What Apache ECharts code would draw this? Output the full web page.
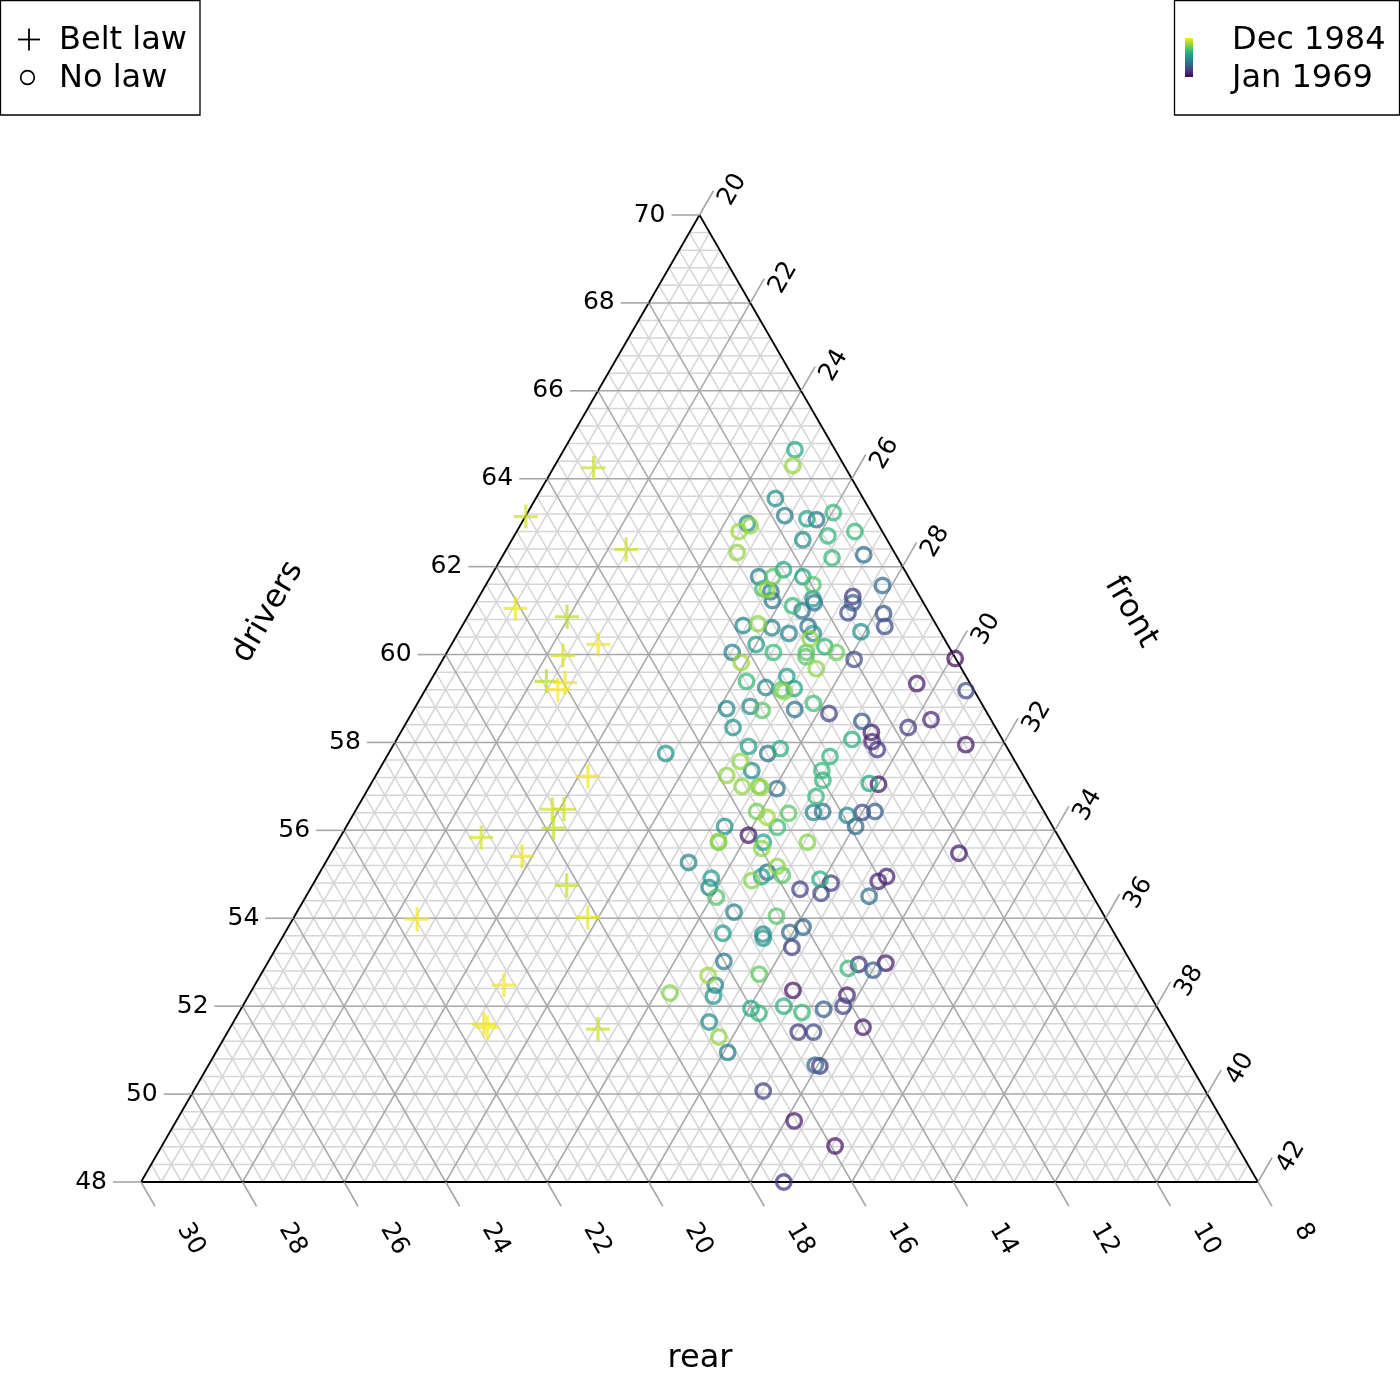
<!DOCTYPE html>
<html><head><meta charset="utf-8">
<script src="https://cdn.jsdelivr.net/npm/echarts@6/dist/echarts.min.js"></script>
<style>html,body{margin:0;padding:0;background:#fff}#c{width:1400px;height:1400px}</style>
</head><body><div id="c"></div>
<script>
// ---- data (percent of casualties) ----
const drivers = [
64.66,64.30,63.55,63.16,63.09,63.07,63.23,62.98,62.93,62.80,
62.61,62.70,62.80,62.32,62.20,62.27,61.93,61.77,61.77,61.77,
61.59,61.50,61.48,61.43,61.23,61.11,61.00,61.27,61.18,61.32,
61.18,60.95,61.57,60.93,60.64,60.52,60.66,60.70,60.61,60.48,
60.64,60.48,60.36,60.23,60.05,60.05,60.18,60.05,60.05,59.95,
59.82,59.68,59.89,59.91,59.39,59.25,59.20,59.16,59.23,59.50,59.34,59.18,
58.77,58.82,58.73,58.75,58.89,58.66,58.48,58.23,58.02,57.84,58.34,58.52,
57.95,58.07,58.34,57.75,57.91,57.75,57.86,57.68,
57.57,57.36,57.25,57.36,57.14,57.00,
57.00,56.98,56.95,57.07,57.05,56.77,
56.41,56.43,56.34,56.41,56.43,56.09,
56.43,56.30,56.39,56.07,56.09,55.89,
55.73,55.75,55.73,55.59,
55.73,55.48,55.27,54.91,54.70,54.48,54.86,54.95,55.05,55.18,
54.98,54.66,54.89,54.57,54.80,54.84,54.95,54.50,54.14,54.05,
53.66,53.64,53.55,53.68,53.80,53.34,53.02,52.70,52.48,52.23,52.30,
52.73,52.36,52.86,52.95,52.82,52.98,52.25,52.00,51.93,52.00,
51.86,51.95,51.84,51.64,51.30,50.95,51.52,51.41,51.41,50.66,
50.64,50.07,49.39,48.82,48.00,
64.25,63.14,62.39,61.05,60.86,60.23,59.98,59.39,59.36,59.20,
57.23,56.48,56.48,56.05,55.84,55.41,54.75,54.02,53.98,52.48,
51.59,51.52,51.48
];
const front = [
24.55,24.69,24.72,25.10,25.57,25.77,26.02,24.45,24.53,24.38,
25.73,26.18,26.66,24.58,26.51,27.10,25.69,25.28,25.56,26.15,
26.44,25.50,25.59,25.69,25.82,26.28,26.52,26.60,26.67,27.36,
27.43,27.45,27.82,28.16,28.33,27.92,25.53,25.80,26.12,26.52,
26.82,27.00,27.00,26.00,25.62,26.43,27.38,27.67,27.08,27.12,
25.91,27.46,28.10,30.08,26.23,26.68,27.01,27.09,27.25,26.97,29.61,30.66,
26.15,26.59,26.87,27.50,27.80,28.22,28.96,29.27,29.39,29.58,29.94,30.30,
31.27,28.97,26.49,25.46,27.01,27.47,27.66,28.73,
27.02,27.35,26.91,28.73,28.86,27.34,
27.67,27.72,28.05,29.81,30.00,28.91,
29.04,29.21,29.74,30.00,30.24,30.03,
27.91,28.18,28.56,28.50,27.45,28.02,
27.51,27.50,28.39,28.43,
29.26,32.37,27.15,27.78,27.84,28.09,28.60,28.75,28.81,28.94,
29.14,29.65,29.93,30.11,30.19,31.10,31.21,31.09,28.61,29.49,
28.63,29.43,29.48,29.94,30.14,30.15,28.97,28.82,29.07,29.16,28.27,
29.81,30.66,31.50,31.66,32.01,32.18,31.78,31.83,31.48,30.66,
31.09,30.04,30.25,29.37,29.73,30.08,32.46,31.24,31.54,31.95,
32.05,31.22,32.17,33.26,32.66,
20.79,20.01,22.36,20.85,21.96,22.89,22.32,22.29,22.67,22.61,
24.19,23.86,24.09,24.10,22.78,23.80,25.01,25.79,22.45,24.91,
24.96,25.06,27.26
];
const rear = [
8.79,9.01,9.73,9.74,9.34,9.16,8.75,10.57,10.54,10.82,
9.66,9.12,8.54,11.10,9.29,8.63,10.38,10.95,10.67,10.08,
9.97,11.00,10.93,10.88,10.95,10.61,10.48,10.13,10.15,9.32,
9.39,9.60,8.61,8.91,9.03,9.56,11.81,11.50,11.27,11.00,
10.54,10.52,10.64,11.77,12.33,11.52,10.44,10.28,10.87,10.93,
12.27,10.86,10.01,8.01,12.38,12.07,11.79,11.75,11.52,11.53,9.05,8.16,
13.08,12.59,12.40,11.75,11.31,11.12,10.56,10.50,10.59,10.58,9.72,9.18,
8.78,10.96,13.17,14.79,13.08,12.78,12.48,11.59,
13.41,13.29,13.84,11.91,12.00,13.66,
13.33,13.30,13.00,11.12,10.95,12.32,
12.55,12.36,11.92,11.59,11.33,11.88,
13.66,13.52,13.05,13.43,14.46,14.09,
14.76,14.75,13.88,13.98,
13.01,10.15,15.58,15.31,15.46,15.43,14.54,14.30,14.14,13.88,
13.88,13.69,13.18,13.32,13.01,12.06,11.84,12.41,15.25,14.46,
15.71,14.93,14.97,14.38,14.06,14.51,16.01,16.48,16.45,16.61,17.43,
15.46,14.98,13.64,13.39,13.17,12.84,13.97,14.17,14.59,15.34,
15.05,16.01,15.91,16.99,16.97,16.97,14.02,15.35,15.05,15.39,
15.31,16.71,16.44,15.92,17.34,
12.96,14.85,13.25,16.10,15.18,14.88,15.70,16.32,15.97,16.19,
16.58,17.66,17.43,17.85,19.38,18.79,18.24,18.19,21.57,20.61,
21.45,21.42,19.26
];
// months since Jan 1969 (estimated from the colour of each mark)
const month = [
115,160,90,80,110,70,125,90,160,162,
92,125,125,160,125,68,115,80,140,110,
138,128,162,72,75,125,70,95,70,35,
55,42,65,50,45,95,85,158,85,85,
70,95,160,105,82,128,122,148,140,140,
162,158,45,5,128,85,142,155,110,105,15,40,
85,88,140,70,132,38,55,15,18,30,32,20,
12,120,95,98,110,72,118,122,
158,90,160,125,122,160,
145,163,70,115,10,125,
85,68,88,40,55,65,
148,165,142,130,95,12,
145,160,112,158,
155,14,85,105,88,138,156,112,70,158,
140,35,118,40,30,20,16,70,82,140,
105,90,95,65,60,35,78,162,85,100,155,
142,10,125,30,55,15,18,40,58,120,
128,112,125,92,160,80,12,30,45,62,
28,38,14,10,25,
176,178,176,186,171,188,180,170,186,190,
187,178,176,174,179,185,175,184,189,188,
185,190,177
];
const LAW_START = 169;            // Feb 1983: seat-belt law in force
const LAST_MONTH = 191;           // Dec 1984
const driversTicks = [48,50,52,54,56,58,60,62,64,66,68,70];
const frontTicks   = [20,22,24,26,28,30,32,34,36,38,40,42];
const rearTicks    = [30,28,26,24,22,20,18,16,14,12,10,8];
const legendLaw    = ['Belt law','No law'];
const legendTime   = ['Dec 1984','Jan 1969'];
const axisTitles   = {drivers:'drivers', front:'front', rear:'rear'};

// ---- ternary frame ----
const DMIN = 48, FMIN = 20, RMIN = 8, SPAN = 22, TOTAL = DMIN + FMIN + RMIN + SPAN;
function toXY(d, f, r) {
  const a = (d - DMIN) / SPAN, b = (f - FMIN) / SPAN, c = (r - RMIN) / SPAN, s = a + b + c;
  return [(b + a / 2) / s, a / s];
}
const VIR = ['#440154','#482475','#414487','#355f8d','#2a788e','#21918c','#22a884','#44bf70','#7ad151','#bddf26','#fde725'];
function hex(h){return [parseInt(h.slice(1,3),16),parseInt(h.slice(3,5),16),parseInt(h.slice(5,7),16)];}
function viridis(t, alpha) {
  t = Math.max(0, Math.min(1, t));
  const p = t * 10, i = Math.min(9, Math.floor(p)), f = p - i;
  const a = hex(VIR[i]), b = hex(VIR[i + 1]);
  const c = a.map((v, k) => Math.round(v + (b[k] - v) * f));
  return 'rgba(' + c.join(',') + ',' + alpha + ')';
}

const FONT = 'DejaVu Sans';
const minorSegs = [], majorSegs = [];
const STEP = 0.4, NSTEP = Math.round(SPAN / STEP);
for (let k = 1; k < NSTEP; k++) {
  const t = k * STEP;
  const target = (k % 5 === 0) ? majorSegs : minorSegs;
  const dv = DMIN + t, fv = FMIN + t, rv = RMIN + t;
  const a1 = toXY(dv, FMIN, TOTAL - dv - FMIN), a2 = toXY(dv, TOTAL - dv - RMIN, RMIN);
  const b1 = toXY(DMIN, fv, TOTAL - fv - DMIN), b2 = toXY(TOTAL - fv - RMIN, fv, RMIN);
  const c1 = toXY(DMIN, TOTAL - rv - DMIN, rv), c2 = toXY(TOTAL - rv - FMIN, FMIN, rv);
  target.push([a1[0], a1[1], a2[0], a2[1]], [b1[0], b1[1], b2[0], b2[1]], [c1[0], c1[1], c2[0], c2[1]]);
}
const vTop = toXY(DMIN + SPAN, FMIN, RMIN), vLeft = toXY(DMIN, FMIN, RMIN + SPAN), vRight = toXY(DMIN, FMIN + SPAN, RMIN);
const edgeSegs = [[vLeft[0], vLeft[1], vRight[0], vRight[1]], [vRight[0], vRight[1], vTop[0], vTop[1]], [vTop[0], vTop[1], vLeft[0], vLeft[1]]];

function segSeries(data, color, width, z) {
  return {
    type: 'custom', coordinateSystem: 'cartesian2d', silent: true, z: z, animation: false, clip: false,
    data: data, encode: {x: [0, 2], y: [1, 3]},
    renderItem: function (params, api) {
      const p1 = api.coord([api.value(0), api.value(1)]), p2 = api.coord([api.value(2), api.value(3)]);
      return {type: 'line', shape: {x1: p1[0], y1: p1[1], x2: p2[0], y2: p2[1]}, style: {stroke: color, lineWidth: width}};
    }
  };
}

// ticks: [x, y, axis, labelIndex]
const tickData = [];
driversTicks.forEach((v, i) => { const p = toXY(v, FMIN, TOTAL - v - FMIN); tickData.push([p[0], p[1], 0, i]); });
frontTicks.forEach((v, i) => { const p = toXY(TOTAL - v - RMIN, v, RMIN); tickData.push([p[0], p[1], 1, i]); });
rearTicks.forEach((v, i) => { const p = toXY(DMIN, TOTAL - v - DMIN, v); tickData.push([p[0], p[1], 2, i]); });
const TL = 28, TICKC = '#a6a6a6', TFONT = '25px "' + FONT + '"';
const tickSeries = {
  type: 'custom', coordinateSystem: 'cartesian2d', silent: true, z: 6, animation: false, clip: false,
  data: tickData, encode: {x: 0, y: 1},
  renderItem: function (params, api) {
    const p = api.coord([api.value(0), api.value(1)]);
    const ax = api.value(2), li = api.value(3);
    let e, txt;
    if (ax === 0) {
      e = [p[0] - TL, p[1]];
      txt = {type: 'text', x: e[0] - 6, y: e[1], style: {text: String(driversTicks[li]), fill: '#000', font: TFONT, align: 'right', verticalAlign: 'middle'}};
    } else if (ax === 1) {
      e = [p[0] + TL * 0.5, p[1] - TL * 0.866];
      txt = {type: 'text', x: e[0] + 19, y: e[1] - 1, rotation: Math.PI / 3, style: {text: String(frontTicks[li]), fill: '#000', font: TFONT, align: 'center', verticalAlign: 'middle'}};
    } else {
      e = [p[0] + TL * 0.5, p[1] + TL * 0.866];
      txt = {type: 'text', x: e[0] + 28, y: e[1] + 19, rotation: -Math.PI / 3, style: {text: String(rearTicks[li]), fill: '#000', font: TFONT, align: 'left', verticalAlign: 'middle'}};
    }
    return {type: 'group', children: [
      {type: 'line', shape: {x1: p[0], y1: p[1], x2: e[0], y2: e[1]}, style: {stroke: TICKC, lineWidth: 1.6}},
      txt
    ]};
  }
};

// points, drawn in time order
const order = drivers.map((_, i) => i).sort((a, b) => month[a] - month[b]);
const circData = [], plusData = [];
order.forEach(i => {
  const xy = toXY(drivers[i], front[i], rear[i]);
  const col = viridis(month[i] / LAST_MONTH, 0.9);
  if (month[i] >= LAW_START) plusData.push({value: xy, itemStyle: {color: col}});
  else circData.push({value: xy, itemStyle: {color: 'rgba(0,0,0,0)', borderColor: col, borderWidth: 3.4}});
});
const PLUS = 'path://M10.4,0 L13.6,0 L13.6,10.4 L24,10.4 L24,13.6 L13.6,13.6 L13.6,24 L10.4,24 L10.4,13.6 L0,13.6 L0,10.4 L10.4,10.4 Z';

const chart = echarts.init(document.getElementById('c'));
const gradStops = [];
for (let k = 0; k <= 10; k++) gradStops.push({offset: k / 10, color: VIR[k]});
const LFONT = '32px "' + FONT + '"';
chart.setOption({
  animation: false,
  backgroundColor: '#fff',
  grid: {left: 141, top: 215, width: 1117, height: 967},
  xAxis: {type: 'value', min: 0, max: 1, show: false},
  yAxis: {type: 'value', min: 0, max: 1, show: false},
  series: [
    segSeries(minorSegs, '#d6d6d6', 1.5, 1),
    segSeries(majorSegs, '#a8a8a8', 1.5, 2),
    segSeries(edgeSegs, '#000', 1.8, 3),
    tickSeries,
    {type: 'scatter', name: legendLaw[1], z: 10, animation: false, silent: true, symbol: 'circle', symbolSize: 14.5, data: circData},
    {type: 'scatter', name: legendLaw[0], z: 11, animation: false, silent: true, symbol: PLUS, symbolSize: 24, data: plusData}
  ],
  graphic: [
    {type: 'text', x: 268, y: 612, rotation: Math.PI / 3, style: {text: axisTitles.drivers, font: LFONT, fill: '#000', align: 'center', verticalAlign: 'middle'}},
    {type: 'text', x: 1131, y: 612, rotation: -Math.PI / 3, style: {text: axisTitles.front, font: LFONT, fill: '#000', align: 'center', verticalAlign: 'middle'}},
    {type: 'text', x: 700, y: 1359, style: {text: axisTitles.rear, font: LFONT, fill: '#000', align: 'center', verticalAlign: 'middle'}},
    // law legend
    {type: 'rect', shape: {x: 0.5, y: 0.5, width: 199.5, height: 114.5}, style: {fill: '#fff', stroke: '#000', lineWidth: 1.3}},
    {type: 'line', shape: {x1: 18, y1: 39.5, x2: 40, y2: 39.5}, style: {stroke: '#000', lineWidth: 1.8}},
    {type: 'line', shape: {x1: 29, y1: 28.5, x2: 29, y2: 50.5}, style: {stroke: '#000', lineWidth: 1.8}},
    {type: 'circle', shape: {cx: 27.5, cy: 77.5, r: 6.8}, style: {fill: 'none', stroke: '#000', lineWidth: 1.7}},
    {type: 'text', x: 59, y: 41, style: {text: legendLaw[0], font: LFONT, fill: '#000', align: 'left', verticalAlign: 'middle'}},
    {type: 'text', x: 59, y: 79, style: {text: legendLaw[1], font: LFONT, fill: '#000', align: 'left', verticalAlign: 'middle'}},
    // time legend
    {type: 'rect', shape: {x: 1174.5, y: 0.5, width: 225, height: 114.5}, style: {fill: '#fff', stroke: '#000', lineWidth: 1.3}},
    {type: 'rect', shape: {x: 1185, y: 38, width: 8, height: 39}, style: {fill: {type: 'linear', x: 0, y: 1, x2: 0, y2: 0, colorStops: gradStops}}},
    {type: 'text', x: 1232, y: 41, style: {text: legendTime[0], font: LFONT, fill: '#000', align: 'left', verticalAlign: 'middle'}},
    {type: 'text', x: 1232, y: 79, style: {text: legendTime[1], font: LFONT, fill: '#000', align: 'left', verticalAlign: 'middle'}}
  ]
});
</script>
</body></html>
